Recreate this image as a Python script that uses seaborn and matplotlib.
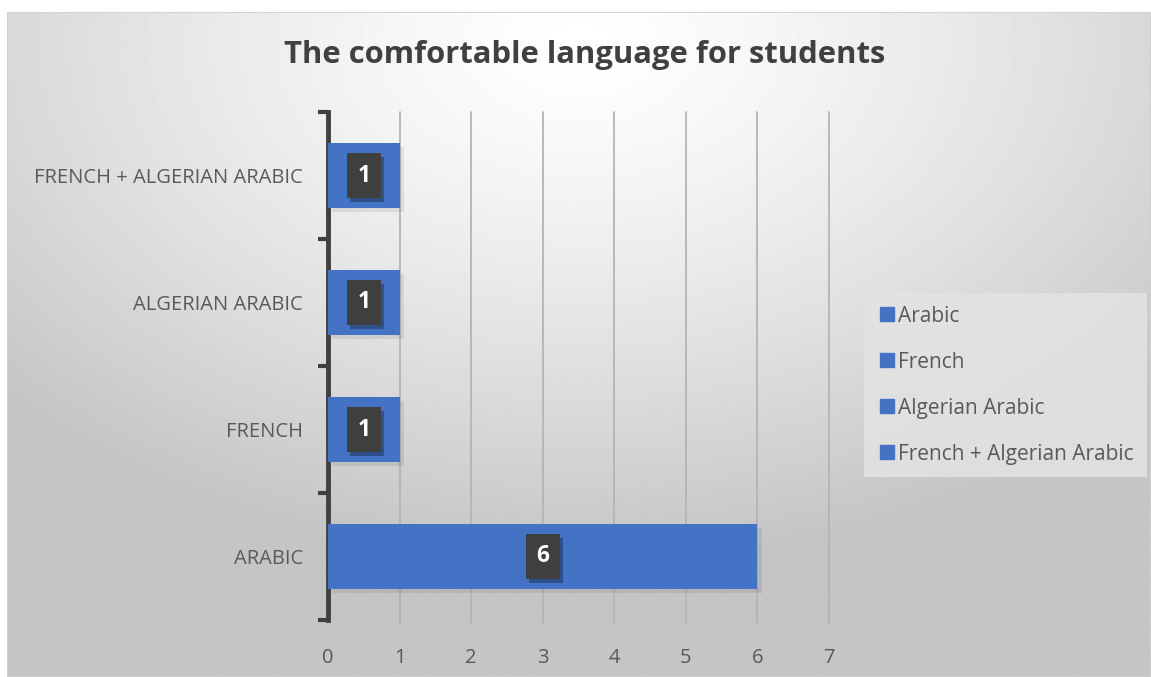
import numpy as np
import pandas as pd
import matplotlib
matplotlib.use("Agg")
import matplotlib.pyplot as plt
import matplotlib.patheffects as pe
from matplotlib.patches import Rectangle
from matplotlib.lines import Line2D
import seaborn as sns

# Survey answers: which language students feel comfortable with
languages = ["Arabic", "French", "Algerian Arabic", "French + Algerian Arabic"]
counts = [6, 1, 1, 1]
x_ticks = [0, 1, 2, 3, 4, 5, 6, 7]

title = "The comfortable language for students"
bar_color = "#4472C4"
text_color = "#595959"

sns.set_theme(style="white")
plt.rcParams["font.family"] = ["Open Sans", "DejaVu Sans"]

df = pd.DataFrame({"language": languages, "count": counts})

W, H, DPI = 11.51, 6.77, 100
fig = plt.figure(figsize=(W, H), dpi=DPI)
fig.patch.set_facecolor("white")

# radial grey backdrop of the chart area
bg = fig.add_axes([7 / 1151, 0, 1 - 7 / 1151, 1 - 12 / 677], zorder=-10)
ny, nx = 300, 500
yy, xx = np.mgrid[0:ny, 0:nx]
cx, cy = 0.50 * nx, 0.05 * ny
d = np.sqrt(((xx - cx) / nx * 0.9) ** 2 + ((yy - cy) / ny * 0.8) ** 2)
d = np.clip(d / 0.62, 0, 1)
shade = 1.0 - 0.23 * d ** 1.3
bg.imshow(shade, cmap="gray", vmin=0, vmax=1, aspect="auto",
          extent=[0, 1, 0, 1], interpolation="bilinear")
bg.set_axis_off()
bg.add_patch(Rectangle((0, 0), 1, 1, transform=bg.transAxes, fill=False,
                       edgecolor="#cfcfcf", lw=1.2))

ax = fig.add_axes([328 / 1151, 1 - 620 / 677, (829 - 328) / 1151, (620 - 112) / 677])
ax.set_facecolor("none")

order = languages[::-1]
sns.barplot(data=df, y="language", x="count", hue="language",
            order=order, hue_order=languages,
            palette=[bar_color] * len(languages), dodge=False,
            width=0.51, saturation=1, legend=True, linewidth=0,
            edgecolor="none", ax=ax, zorder=3)

for bar in ax.patches:
    bar.set_path_effects([pe.SimplePatchShadow(offset=(3, -3), shadow_rgbFace="#000000", alpha=0.08),
                          pe.Normal()])

ax.set_xlim(0, 7)
ax.set_ylim(len(order) - 0.5, -0.5)
ax.set_xticks(x_ticks)
ax.set_xticklabels([str(t) for t in x_ticks])
ax.set_xlabel("")
ax.set_ylabel("")

# vertical gridlines
for t in x_ticks[1:]:
    ax.plot([t, t], [-0.5, len(order) - 0.5 + 0.02], color="#b4b4b4", lw=1.3,
            zorder=1, clip_on=False)

for s in ["top", "right", "bottom"]:
    ax.spines[s].set_visible(False)
ax.spines["left"].set_color("#404040")
ax.spines["left"].set_linewidth(3.5)

ax.tick_params(axis="x", bottom=False, length=0, pad=20, labelsize=14.5,
               labelcolor=text_color)
ax.tick_params(axis="y", which="major", left=False, length=0, pad=18,
               labelsize=14.5, labelcolor=text_color)
ax.set_yticks(np.arange(-0.5, len(order)), minor=True)
ax.tick_params(axis="y", which="minor", left=True, length=7, width=3,
               color="#404040")
ax.set_yticklabels([s.upper() for s in order])

# value labels in dark boxes, centred on each bar
for name, val in zip(languages, counts):
    yi = order.index(name)
    t = ax.text(val / 2, yi, str(val), ha="center", va="center",
                color="white", fontsize=16.5, fontweight="bold", zorder=6,
                bbox=dict(boxstyle="square,pad=0.45", facecolor="#3f3f3f",
                          edgecolor="none"))
    t.get_bbox_patch().set_path_effects(
        [pe.SimplePatchShadow(offset=(2.5, -3), shadow_rgbFace="#000000", alpha=0.3),
         pe.Normal()])

fig.text(0.508, 1 - 55 / 677, title, ha="center", va="center",
         fontsize=22.3, fontweight="bold", color="#404040")

handles = [Line2D([0], [0], marker="s", linestyle="none", markersize=10,
                  markerfacecolor=bar_color, markeredgecolor=bar_color)
           for _ in languages]
if ax.get_legend() is not None:
    ax.get_legend().remove()
leg = fig.legend(handles, languages, loc="upper left",
                 bbox_to_anchor=(864 / 1151, 1 - 293 / 677),
                 frameon=True, fontsize=15, labelcolor=text_color,
                 handletextpad=0.05, handlelength=1.0, labelspacing=1.2,
                 borderpad=0.6, borderaxespad=0)
leg.get_frame().set_facecolor("#e3e3e3")
leg.get_frame().set_edgecolor("none")
leg.get_frame().set_alpha(0.85)
leg.get_frame().set_boxstyle("square", pad=0)

fig.savefig("out.png", dpi=DPI)
